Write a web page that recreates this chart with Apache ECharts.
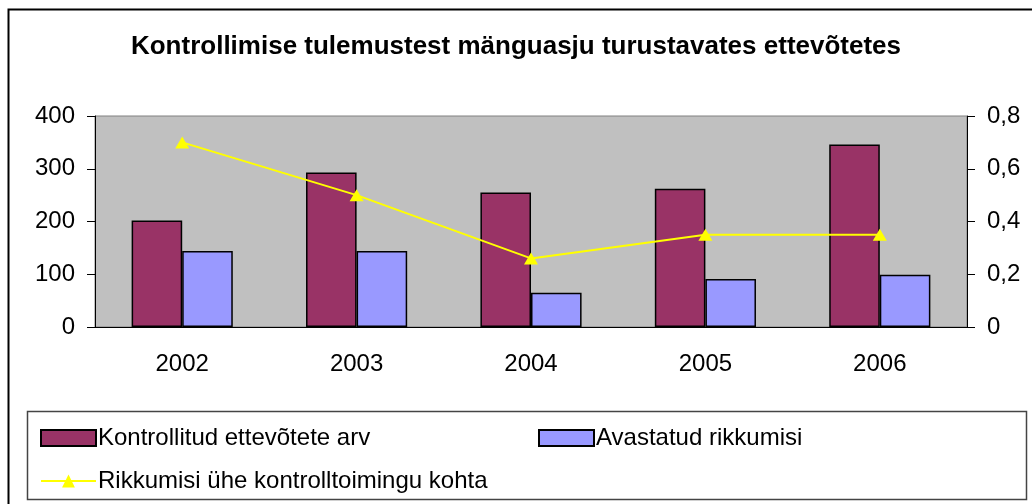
<!DOCTYPE html>
<html>
<head>
<meta charset="utf-8">
<script src="https://cdn.jsdelivr.net/npm/echarts@6/dist/echarts.min.js"></script>
<style>
  html, body { margin: 0; padding: 0; background: #fff; }
  #chart { width: 1032px; height: 504px; }
</style>
</head>
<body>
<div id="chart"></div>
<script>
// andmed
const years = ['2002', '2003', '2004', '2005', '2006'];
const checkedCompanies = [202, 293, 255, 262, 346];
const violations = [144, 144, 65, 91, 99];
const violationsPerCheck = [0.70, 0.50, 0.26, 0.35, 0.35];
const leftTicks = [0, 100, 200, 300, 400];
const rightTicks = [0, 0.2, 0.4, 0.6, 0.8];

const names = ['Kontrollitud ettevõtete arv', 'Avastatud rikkumisi', 'Rikkumisi ühe kontrolltoimingu kohta'];
const font = 'Liberation Sans, Arial, sans-serif';

const chart = echarts.init(document.getElementById('chart'));
const legendText = { fontFamily: font, fontSize: 24, color: '#000', padding: [0, 0, 0, -3] };

chart.setOption({
  animation: false,
  backgroundColor: '#fff',
  title: {
    text: 'Kontrollimise tulemustest mänguasju turustavates ettevõtetes',
    left: 'center',
    top: 29,
    textStyle: { fontFamily: font, fontSize: 26, fontWeight: 'bold', color: '#000' }
  },
  graphic: [{
    type: 'rect',
    shape: { x: 8.5, y: 9.5, width: 1040, height: 510 },
    style: { fill: null, stroke: '#000', lineWidth: 2 },
    silent: true
  }, {
    type: 'rect',
    shape: { x: 27.5, y: 411.5, width: 999, height: 88 },
    style: { fill: null, stroke: '#444', lineWidth: 1.5 },
    silent: true
  }],
  legend: [{
    data: [names[0]],
    left: 35, top: 421,
    icon: 'rect',
    itemWidth: 55, itemHeight: 16,
    textStyle: legendText
  }, {
    data: [names[1]],
    left: 533, top: 421,
    icon: 'rect',
    itemWidth: 55, itemHeight: 16,
    textStyle: legendText
  }, {
    data: [names[2]],
    left: 35, top: 464,
    itemWidth: 55, itemHeight: 16,
    textStyle: legendText
  }],
  grid: {
    left: 95, right: 65, top: 116, bottom: 177,
    show: true, backgroundColor: '#C0C0C0', borderColor: '#808080', borderWidth: 1
  },
  xAxis: {
    type: 'category',
    data: years,
    axisLine: { lineStyle: { color: '#000', width: 1 } },
    axisTick: { length: 8, lineStyle: { color: '#000' } },
    axisLabel: { fontFamily: font, fontSize: 24, color: '#000', margin: 25 }
  },
  yAxis: [{
    type: 'value',
    min: leftTicks[0], max: leftTicks[leftTicks.length - 1], interval: 100,
    splitLine: { show: false },
    axisLine: { show: true, lineStyle: { color: '#000' } },
    axisTick: { show: true, length: 8, lineStyle: { color: '#000' } },
    axisLabel: { fontFamily: font, fontSize: 24, color: '#000', margin: 20 }
  }, {
    type: 'value',
    position: 'right',
    min: rightTicks[0], max: rightTicks[rightTicks.length - 1], interval: 0.2,
    splitLine: { show: false },
    axisLine: { show: true, lineStyle: { color: '#000' } },
    axisTick: { show: true, length: 8, lineStyle: { color: '#000' } },
    axisLabel: {
      fontFamily: font, fontSize: 24, color: '#000', margin: 20,
      formatter: v => (Math.round(v * 10) / 10).toString().replace('.', ',')
    }
  }],
  series: [{
    name: names[0],
    type: 'bar',
    data: checkedCompanies,
    barGap: '0%',
    barCategoryGap: '42%',
    itemStyle: { color: '#993366', borderColor: '#000', borderWidth: 1.5 }
  }, {
    name: names[1],
    type: 'bar',
    data: violations,
    itemStyle: { color: '#9999FF', borderColor: '#000', borderWidth: 1.5 }
  }, {
    name: names[2],
    type: 'line',
    yAxisIndex: 1,
    data: violationsPerCheck,
    symbol: 'triangle',
    symbolSize: [14, 12],
    lineStyle: { color: '#FFFF00', width: 2 },
    itemStyle: { color: '#FFFF00' },
    z: 5
  }]
});
</script>
</body>
</html>
